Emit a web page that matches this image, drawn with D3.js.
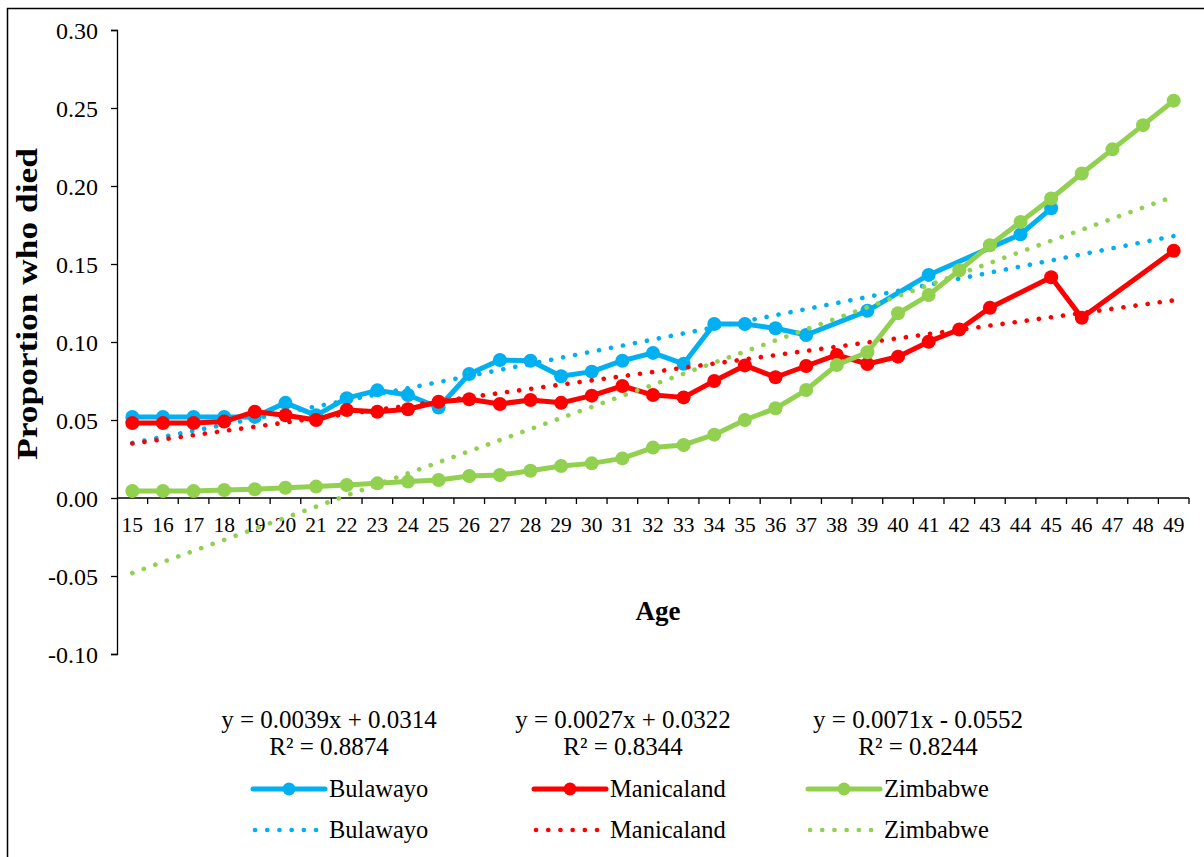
<!DOCTYPE html>
<html>
<head>
<meta charset="utf-8">
<script src="https://cdn.jsdelivr.net/npm/d3@7"></script>
<style>
  html, body { margin: 0; padding: 0; background: #fff; }
  svg { display: block; }
</style>
</head>
<body>
<svg id="chart" width="1204" height="857" font-family="'Liberation Serif', 'DejaVu Serif', serif"></svg>
<script>
// Age categories (x axis)
const ages = [15,16,17,18,19,20,21,22,23,24,25,26,27,28,29,30,31,32,33,34,35,36,37,38,39,40,41,42,43,44,45,46,47,48,49];

// Proportion who died, by age (null = no value for that age)
const bulawayo = [0.052,0.052,0.052,0.052,0.052,0.061,0.053,0.064,0.069,0.066,
                  0.058,0.0795,0.0885,0.088,0.078,0.081,0.088,0.093,0.086,0.1115,
                  0.1115,0.1088,0.1045,null,0.120,null,0.143,null,null,0.169,
                  0.1857,null,null,null,null];
const manicaland = [0.048,0.048,0.048,0.049,0.0553,0.053,0.050,0.0564,0.0553,0.0569,
                    0.0617,0.0633,0.0603,0.0628,0.061,0.0656,0.0718,0.066,0.0645,0.075,
                    0.085,0.0774,0.0846,0.0917,0.0859,0.0906,0.1002,0.108,0.122,null,
                    0.1415,0.1155,null,null,0.1585];
const zimbabwe = [0.0045,0.0045,0.0045,0.0051,0.0056,0.0066,0.0073,0.0083,0.0094,0.0105,
                  0.0115,0.0141,0.0147,0.0175,0.0205,0.0222,0.0254,0.0323,0.034,0.0406,
                  0.050,0.0575,0.0692,0.0853,0.0934,0.1184,0.1301,0.146,0.162,0.177,
                  0.192,0.208,0.2235,0.239,0.2547];

// Linear trend coefficients (x = category index 1..n) and R²
const seriesNames = ["Bulawayo", "Manicaland", "Zimbabwe"];
const seriesColors = ["#00B0F0", "#FF0000", "#92D050"];
const trendSlope = [0.0039, 0.0027, 0.0071];
const trendIntercept = [0.0314, 0.0322, -0.0552];
const trendR2 = ["0.8874", "0.8344", "0.8244"];

// Axis ticks
const yTicks = [-0.10, -0.05, 0.00, 0.05, 0.10, 0.15, 0.20, 0.25, 0.30];

const FONT = "'Liberation Serif', 'DejaVu Serif', serif";
const svg = d3.select("#chart");

// outer frame
svg.append("rect")
  .attr("x", 7.5).attr("y", 8.5)
  .attr("width", 1210).attr("height", 860)
  .attr("fill", "none").attr("stroke", "#000").attr("stroke-width", 1.5);

const plot = { left: 117, right: 1189, top: 30, bottom: 654 };

const x = d3.scaleBand()
  .domain(ages)
  .range([plot.left, plot.right]);
const xc = a => x(a) + x.bandwidth() / 2;

const y = d3.scaleLinear()
  .domain([-0.10, 0.30])
  .range([plot.bottom, plot.top]);

// Y axis
const fmt = d3.format(".2f");
const yAxis = d3.axisLeft(y)
  .tickValues(yTicks)
  .tickFormat(d => fmt(d).replace("\u2212", "-"))
  .tickSizeOuter(0)
  .tickSize(6)
  .tickPadding(13);
const gy = svg.append("g")
  .attr("transform", `translate(${plot.left},0)`)
  .call(yAxis)
  .attr("font-family", FONT)
  .attr("font-size", 24);
gy.select(".domain").attr("stroke", "#000").attr("stroke-width", 1.3);
gy.selectAll(".tick line").attr("stroke", "#000").attr("stroke-width", 1.3);
gy.selectAll(".tick text").attr("fill", "#000").attr("dy", "0.34em");

// X axis on y = 0, ticks between categories
const gx = svg.append("g")
  .attr("transform", `translate(0,${y(0)})`)
  .attr("font-family", FONT);
gx.append("line")
  .attr("x1", plot.left).attr("x2", plot.right)
  .attr("stroke", "#000").attr("stroke-width", 1.3);
const bounds = ages.map(a => x(a)).concat([plot.right]);
gx.selectAll("line.tk").data(bounds.slice(1)).join("line")
  .attr("class", "tk")
  .attr("x1", d => d).attr("x2", d => d)
  .attr("y1", 0).attr("y2", 6)
  .attr("stroke", "#000").attr("stroke-width", 1.3);
gx.selectAll("text").data(ages).join("text")
  .attr("x", d => xc(d))
  .attr("y", 34)
  .attr("text-anchor", "middle")
  .attr("font-size", 21.5)
  .text(d => d);

// Axis titles
svg.append("text")
  .attr("transform", "translate(37,304) rotate(-90) scale(1.22,1)")
  .attr("text-anchor", "middle")
  .attr("font-size", 29)
  .attr("font-weight", "bold")
  .text("Proportion who died");
svg.append("text")
  .attr("x", 658).attr("y", 620)
  .attr("text-anchor", "middle")
  .attr("font-size", 27)
  .attr("font-weight", "bold")
  .text("Age");

// Series lines, markers, and trendlines
const allSeries = [bulawayo, manicaland, zimbabwe];
const line = d3.line()
  .x(d => xc(d.age))
  .y(d => y(d.v));

allSeries.forEach((vals, i) => {
  const pts = ages.map((a, k) => ({ age: a, v: vals[k] })).filter(d => d.v !== null);
  const g = svg.append("g");
  g.append("path")
    .datum(pts)
    .attr("d", line)
    .attr("fill", "none")
    .attr("stroke", seriesColors[i])
    .attr("stroke-width", 5)
    .attr("stroke-linejoin", "round");
  g.selectAll("circle").data(pts).join("circle")
    .attr("cx", d => xc(d.age))
    .attr("cy", d => y(d.v))
    .attr("r", 7)
    .attr("fill", seriesColors[i]);

  const trend = [ages[0], ages[ages.length - 1]].map(a => {
    const idx = ages.indexOf(a) + 1;
    return { age: a, v: trendSlope[i] * idx + trendIntercept[i] };
  });
  g.append("path")
    .datum(trend)
    .attr("d", line)
    .attr("fill", "none")
    .attr("stroke", seriesColors[i])
    .attr("stroke-width", 4.6)
    .attr("stroke-linecap", "round")
    .attr("stroke-dasharray", "0.1 12.1");
});

// Trend equations
const eqX = [329, 623, 918];
seriesNames.forEach((n, i) => {
  const b = trendIntercept[i];
  const eq = `y = ${trendSlope[i].toFixed(4)}x ${b < 0 ? "-" : "+"} ${Math.abs(b).toFixed(4)}`;
  svg.append("text")
    .attr("x", eqX[i]).attr("y", 728)
    .attr("text-anchor", "middle")
    .attr("font-size", 25)
    .text(eq);
  svg.append("text")
    .attr("x", eqX[i]).attr("y", 755)
    .attr("text-anchor", "middle")
    .attr("font-size", 25)
    .text(`R² = ${trendR2[i]}`);
});

// Legend
const legX = [253, 534, 808];
seriesNames.forEach((n, i) => {
  const lg = svg.append("g").attr("transform", `translate(${legX[i]},0)`);
  lg.append("line")
    .attr("x1", 0).attr("x2", 72)
    .attr("y1", 789).attr("y2", 789)
    .attr("stroke", seriesColors[i]).attr("stroke-width", 5)
    .attr("stroke-linecap", "round");
  lg.append("circle")
    .attr("cx", 36).attr("cy", 789).attr("r", 6.5)
    .attr("fill", seriesColors[i]);
  lg.append("text")
    .attr("x", 76).attr("y", 797)
    .attr("font-size", 24.5)
    .text(n);
  lg.append("line")
    .attr("x1", 2).attr("x2", 68)
    .attr("y1", 830).attr("y2", 830)
    .attr("stroke", seriesColors[i]).attr("stroke-width", 4.6)
    .attr("stroke-linecap", "round")
    .attr("stroke-dasharray", "0.1 12.1");
  lg.append("text")
    .attr("x", 76).attr("y", 838)
    .attr("font-size", 24.5)
    .text(n);
});
</script>
</body>
</html>
